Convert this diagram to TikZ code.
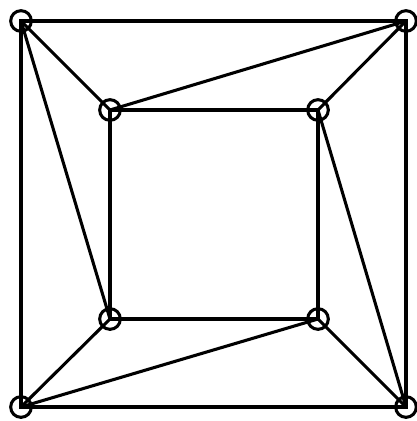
\documentclass[tikz,border=0pt]{standalone}
\usetikzlibrary{positioning}

\begin{document}
\begin{tikzpicture}[x=0.75pt,y=-0.75pt,line width=2.3pt,
  vtx/.style={draw,circle,inner sep=0pt,minimum size=15.5pt,line width=2.3pt}]
\useasboundingbox (0,0) rectangle (417,421);
% Vertices
\node[vtx] (a1) at (21,21) {};
\node[vtx] (a2) at (406,21) {};
\node[vtx] (a3) at (406,407) {};
\node[vtx] (a4) at (21,407) {};
\node[vtx] (b1) at (110,110) {};
\node[vtx] (b2) at (318,110) {};
\node[vtx] (b3) at (318,319) {};
\node[vtx] (b4) at (110,319) {};
% Outer and inner square
\draw (a1.center) -- (a2.center) -- (a3.center) -- (a4.center) -- cycle;
\draw (b1.center) -- (b2.center) -- (b3.center) -- (b4.center) -- cycle;
% Spokes
\draw (a1.center) -- (b1.center);
\draw (a1.center) -- (b4.center);
\draw (a2.center) -- (b1.center);
\draw (a2.center) -- (b2.center);
\draw (a3.center) -- (b2.center);
\draw (a3.center) -- (b3.center);
\draw (a4.center) -- (b4.center);
\draw (a4.center) -- (b3.center);
\end{tikzpicture}
\end{document}
